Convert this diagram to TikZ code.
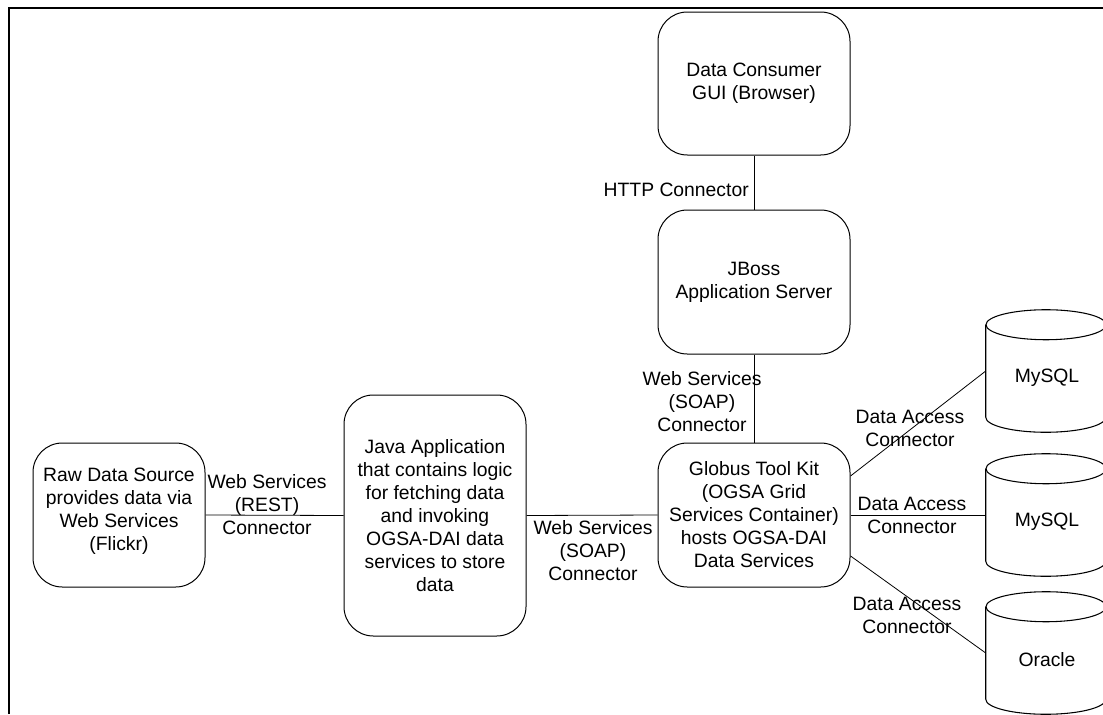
\documentclass[tikz,border=0pt]{standalone}
\usepackage{fontspec}
\setmainfont{Liberation Sans}
\begin{document}
\begin{tikzpicture}[x=0.75pt,y=-0.75pt,
  txt/.style={font=\fontsize{14.5}{17.25}\selectfont, align=center},
  box/.style={txt, draw, line width=0.75pt, rounded corners=22pt, inner sep=0pt},
  lab/.style={txt, inner sep=0pt},
  conn/.style={line width=0.6pt},
  cyl/.style={minimum width=90pt, minimum height=69pt, inner sep=0pt},
  cylline/.style={line width=0.8pt}]
\useasboundingbox (0,0) rectangle (1103,714);
\draw[line width=1.5pt] (9,714) -- (9,8) -- (1103,8);

% boxes
\node[box, minimum width=144pt, minimum height=107.25pt] (cons) at (754,83.5) {Data Consumer\\GUI (Browser)};
\node[box, minimum width=144pt, minimum height=108pt] (jboss) at (754,282) {JBoss\\Application Server};
\node[box, minimum width=144pt, minimum height=108pt] (glob) at (754,515) {Globus Tool Kit\\(OGSA Grid\\Services Container)\\hosts OGSA-DAI\\Data Services};
\node[box, minimum width=136.5pt, minimum height=180.75pt] (java) at (435,515.5) {Java Application\\that contains logic\\for fetching data\\and invoking\\OGSA-DAI data\\services to store\\data};
\node[box, minimum width=129pt, minimum height=108pt] (raw) at (119,515) {};
\node[lab] (rawt) at (119,511) {Raw Data Source\\provides data via\\Web Services\\(Flickr)};

% cylinders
\node[cyl] (my1) at (1046,371) {};
\node[cyl] (my2) at (1046,515) {};
\node[cyl] (ora) at (1046,653) {};
\foreach \n in {my1,my2,ora}{
  \draw[cylline] (\n.north west) -- (\n.south west) arc[start angle=180, end angle=360, x radius=45pt, y radius=11.25pt] -- (\n.north east);
  \draw[cylline] (\n.north) ellipse[x radius=45pt, y radius=11.25pt];
}
\node[lab] (my1t) at (1047,378) {MySQL};
\node[lab] (my2t) at (1047,522) {MySQL};
\node[lab] (orat) at (1047,660) {Oracle};

% connectors
\draw[conn] (cons.south) -- (jboss.north);
\draw[conn] (jboss.south) -- (glob.north);
\draw[conn] (raw.east) -- (java.west);
\draw[conn] (java.east) -- (glob.west);
\draw[conn] (glob.22.6) -- (my1.west);
\draw[conn] (glob.east) -- (my2.west);
\draw[conn] (glob.-23.6) -- (ora.west);

% labels
\node[lab, anchor=east] (lhttp) at (749,190) {HTTP Connector};
\node[lab] (lsoapv) at (702,402) {Web Services\\(SOAP)\\Connector};
\node[lab] (lrest) at (267,505) {Web Services\\(REST)\\Connector};
\node[lab] (lsoaph) at (593,551) {Web Services\\(SOAP)\\Connector};
\node[lab] (lda1) at (910,428) {Data Access\\Connector};
\node[lab] (lda2) at (912,515) {Data Access\\Connector};
\node[lab] (lda3) at (907,615) {Data Access\\Connector};
\end{tikzpicture}
\end{document}
